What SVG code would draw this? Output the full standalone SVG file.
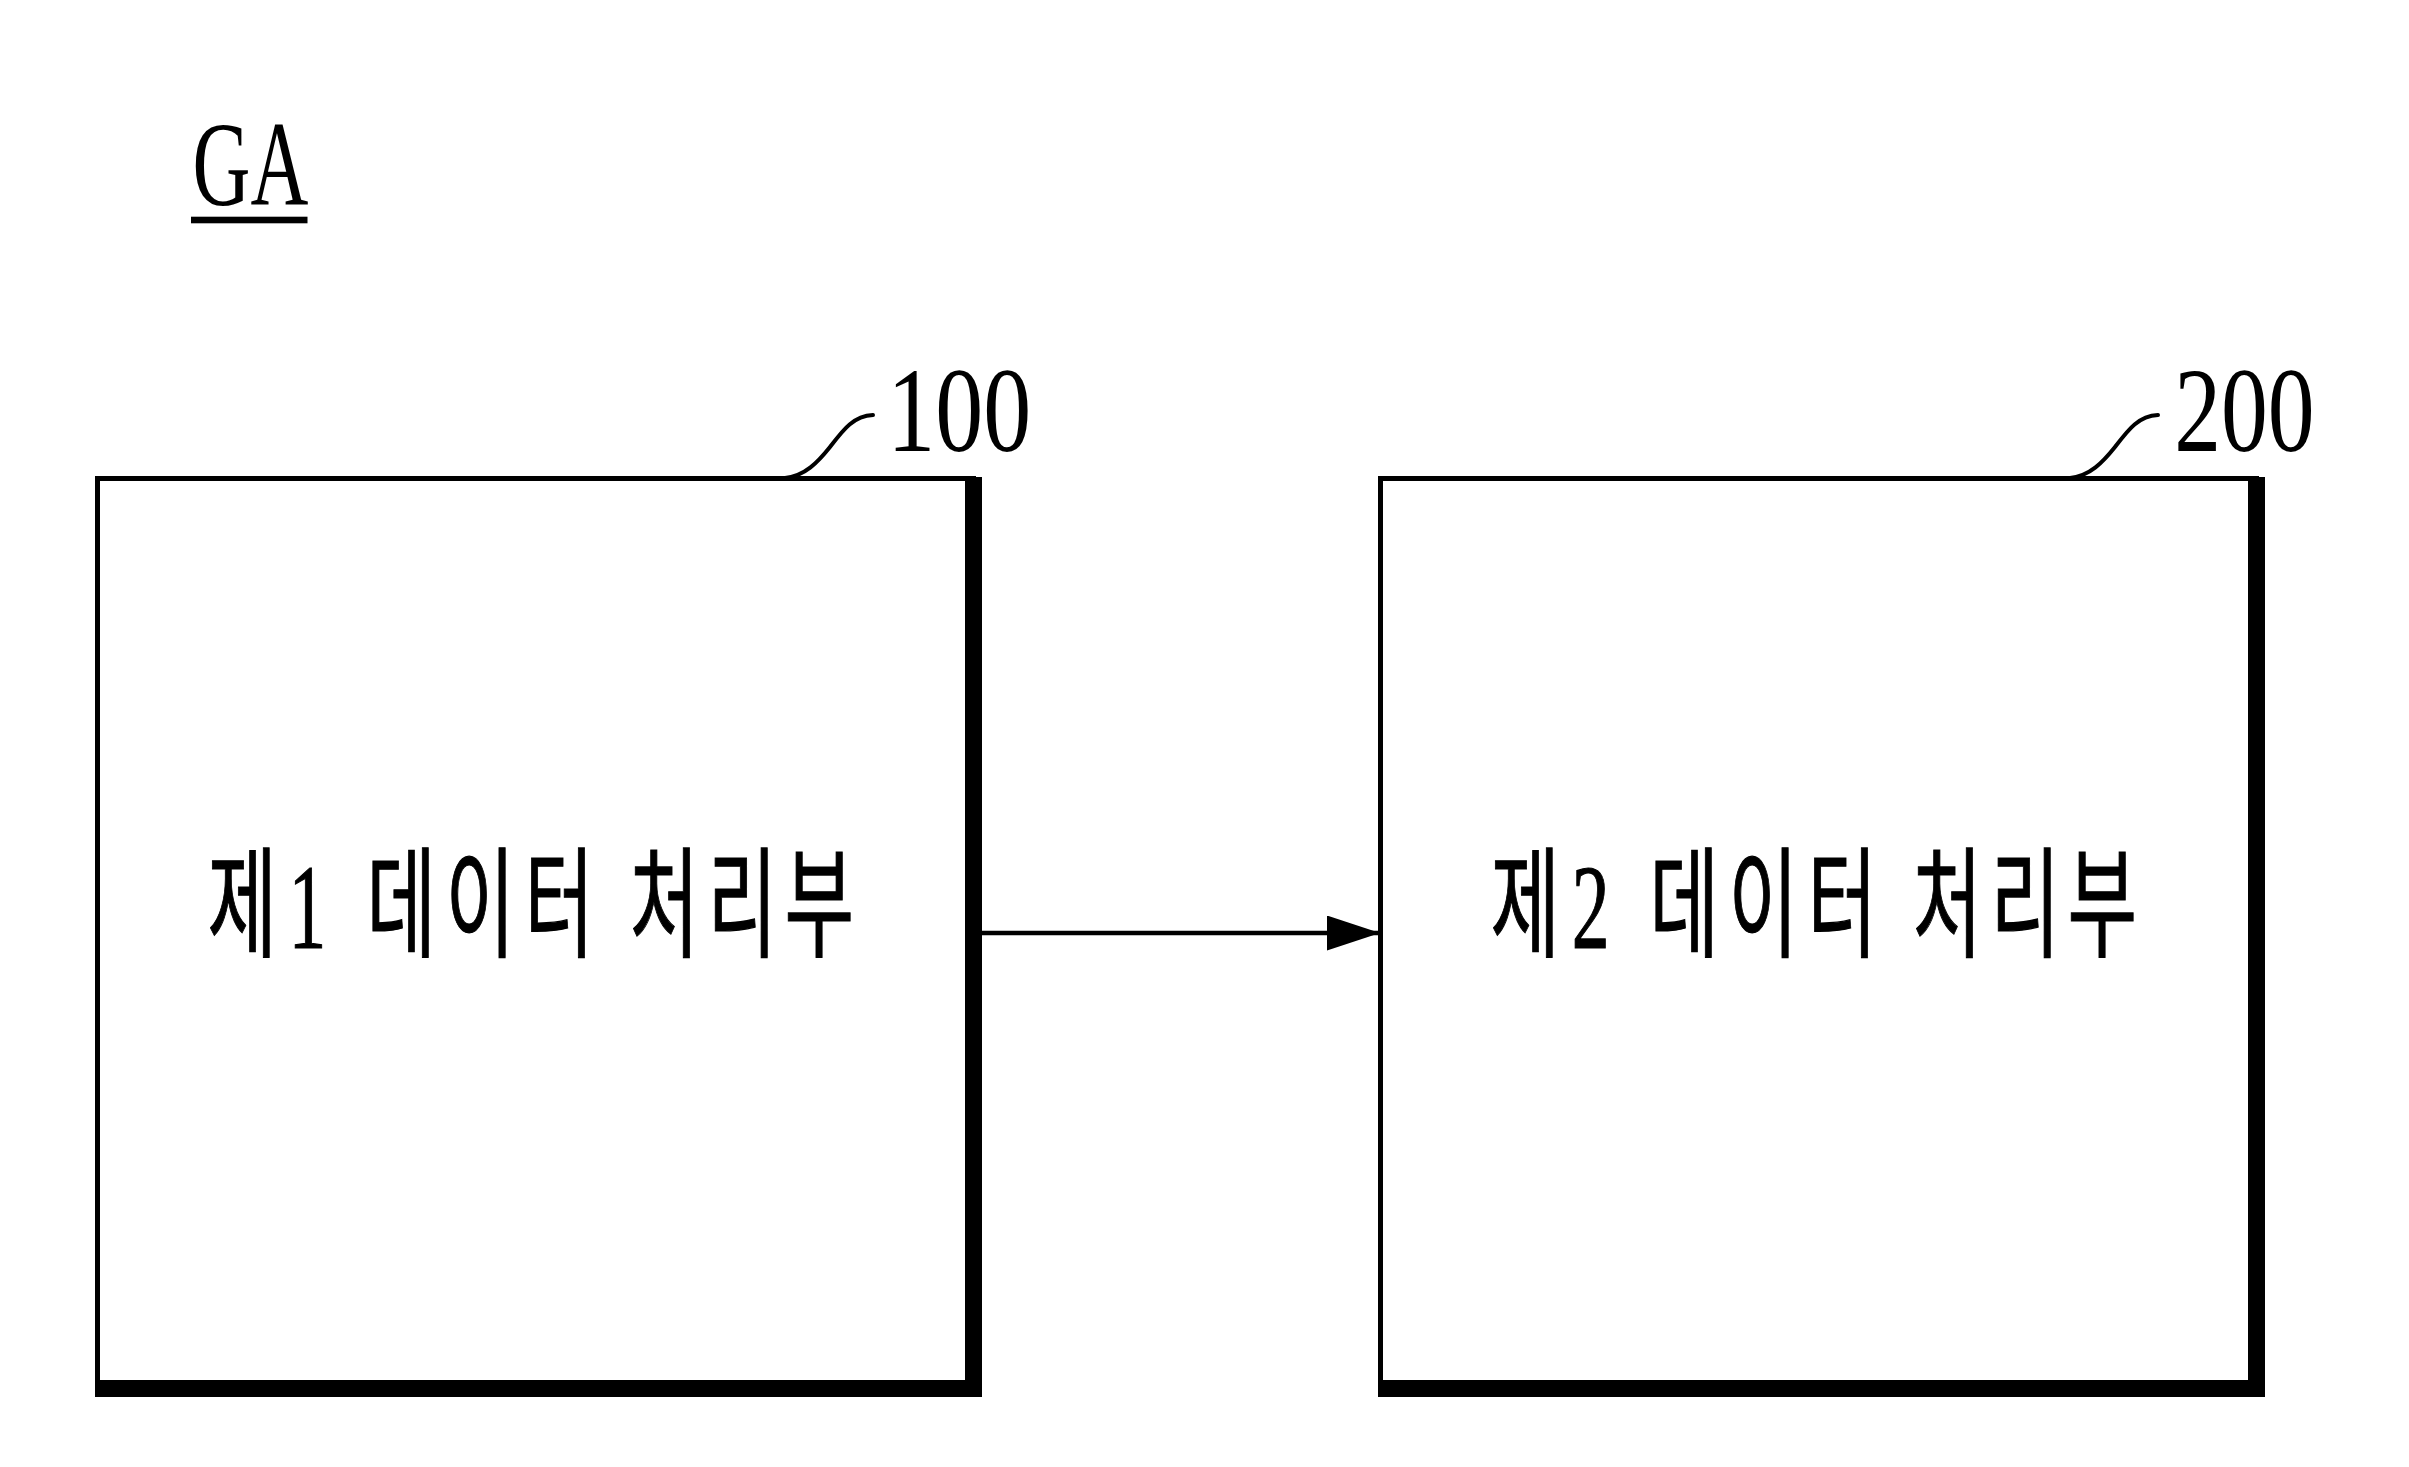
<svg xmlns="http://www.w3.org/2000/svg" width="2409" height="1467" viewBox="0 0 2409 1467">
<style>
.bg{fill:#fff}
.thin{fill:none;stroke:#000;stroke-width:5}
.thick{fill:none;stroke:#000;stroke-width:17;stroke-linejoin:miter}
.lead{fill:none;stroke:#000;stroke-width:4;stroke-linecap:round}
.ref{font-family:"Liberation Serif","Times New Roman",serif;font-size:120px;fill:#000}
.lbl{font-family:"Liberation Serif","Noto Sans CJK KR",serif;font-size:120px;fill:#000;stroke:#000;stroke-width:1.2}
.conn{fill:none;stroke:#000;stroke-width:4.5}
</style>
<defs>
<marker id="arr" markerUnits="userSpaceOnUse" markerWidth="53" markerHeight="35" viewBox="0 0 53 35" refX="53" refY="17.5" orient="auto">
<path d="M0,0 L53,17.5 L0,35 Z" fill="#000"/>
</marker>
</defs>
<rect class="bg" x="0" y="0" width="2409" height="1467"/>
<g id="title">
<text class="ref" x="192.6" y="205" font-size="119" textLength="115.7" lengthAdjust="spacingAndGlyphs">GA</text>
<rect x="191" y="216.7" width="116.5" height="6.6" fill="#000"/>
</g>
<g id="node-100">
<rect class="thin" x="97.5" y="478.5" width="876" height="910"/>
<path class="thick" d="M973.5,477 V1388.5 H95"/>
<path class="lead" d="M785,478 C805,476 818,462 830,447 C843,430 853,416 873,415"/>
<text class="ref" x="887.3" y="451" textLength="144" lengthAdjust="spacingAndGlyphs">100</text>
<text class="lbl" transform="scale(0.63 1)" x="329.4 458.1 523.8 581.7 707.1 832.5 960.3 999.2 1123.0 1245.2" y="948">제1 데이터 처리부</text>
</g>
<g id="node-200">
<rect class="thin" x="1380.5" y="478.5" width="876" height="910"/>
<path class="thick" d="M2256.5,477 V1388.5 H1378"/>
<path class="lead" d="M2070,478 C2090,476 2103,462 2115,447 C2128,430 2138,416 2158,415"/>
<text class="ref" x="2174.2" y="451" textLength="140.4" lengthAdjust="spacingAndGlyphs">200</text>
<text class="lbl" transform="scale(0.63 1)" x="2365.9 2494.8 2560.3 2618.3 2743.7 2869.0 2996.8 3035.7 3159.5 3281.7" y="948">제2 데이터 처리부</text>
</g>
<g id="connectors">
<line class="conn" x1="982" y1="933" x2="1380" y2="933" marker-end="url(#arr)"/>
</g>
</svg>
